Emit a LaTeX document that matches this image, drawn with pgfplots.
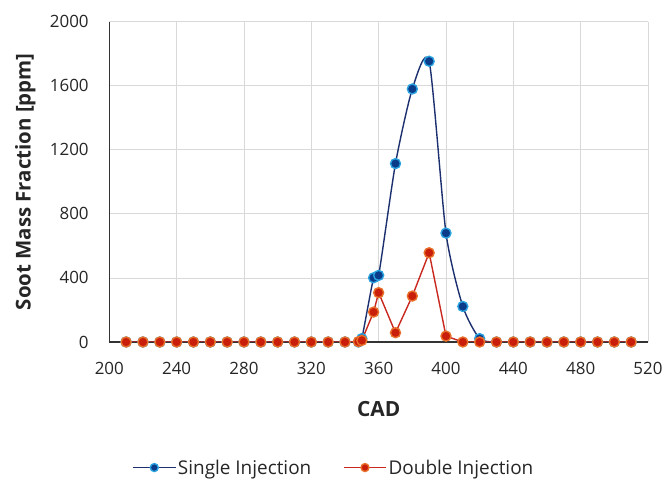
\documentclass[border=0pt]{standalone}
\usepackage{pgfplots}
\pgfplotsset{compat=1.18}
\usepackage{fontspec}
\setmainfont{Open Sans}
\definecolor{blueline}{HTML}{1C2F6E}
\definecolor{bluefill}{HTML}{0A3C8A}
\definecolor{blueedge}{HTML}{2AA3E0}
\definecolor{redline}{HTML}{C8281E}
\definecolor{redfill}{HTML}{C81E0A}
\definecolor{rededge}{HTML}{E8702A}
\pgfplotstableread{
x y
210 0
220 0
230 0
240 0
250 0
260 0
270 0
280 0
290 0
300 0
310 0
320 0
330 0
340 0
348 0
350 21
357 401
360 416
370 1114
380 1580
390 1753
400 680
410 222
420 21
430 0
440 0
450 0
460 0
470 0
480 0
490 0
500 0
510 0
}\single
\pgfplotstableread{
x y
210 0
220 0
230 0
240 0
250 0
260 0
270 0
280 0
290 0
300 0
310 0
320 0
330 0
340 0
348 2
350 10
357 187
360 308
370 58
380 287
390 557
400 37
410 0
420 0
430 0
440 0
450 0
460 0
470 0
480 0
490 0
500 0
510 0
}\double
\begin{document}
\begin{tikzpicture}
\path[use as bounding box] (0bp,0bp) rectangle (665bp,481bp);
\begin{axis}[
  at={(109.3bp,139bp)}, anchor=south west,
  scale only axis, width=538.7bp, height=320.3bp,
  xmin=200, xmax=520, ymin=0, ymax=2000,
  xtick={200,240,...,520}, ytick={0,400,...,2000},
  grid=major, major grid style={draw=black!15, line width=0.8bp},
  axis lines=left, axis line style={-, line width=1.3bp, draw=black!80},
  tick style={draw=none},
  ticklabel style={font=\fontsize{17}{20}\selectfont, text=black!85},
  /pgf/number format/assume math mode=true,
  /pgf/number format/1000 sep={},
  yticklabel style={xshift=-15bp},
  xticklabel style={yshift=-15bp},
  xlabel={CAD}, ylabel={Soot Mass Fraction [ppm]},
  xlabel style={at={(axis description cs:0.5,0)}, anchor=center, yshift=-67bp, font=\fontsize{21}{24}\selectfont\bfseries, text=black!85},
  ylabel style={at={(axis description cs:-0.156,0.5)}, anchor=center, font=\fontsize{20.5}{24}\selectfont\bfseries, text=black!85},
  legend style={at={(axis description cs:0.417,-0.392)}, anchor=center, draw=none, fill=none,
    legend columns=2, font=\fontsize{19}{22}\selectfont, text=black!85,
    /tikz/every even column/.append style={column sep=30bp}},
  legend image code/.code={\draw[mark repeat=2,mark phase=2,mark size=4bp] plot coordinates {(0bp,0bp) (21bp,0bp) (42bp,0bp)};},
]
\addplot[blueline, line width=1.4bp, smooth, tension=0.4, mark=*, mark size=5bp,
  mark options={fill=bluefill, draw=blueedge, line width=1.4bp}] table[x=x,y=y] {\single};
\addlegendentry{Single Injection}
\addplot[redline, line width=1.4bp, mark=*, mark size=5bp,
  mark options={fill=redfill, draw=rededge, line width=1.4bp}] table[x=x,y=y] {\double};
\addlegendentry{Double Injection}
\end{axis}
\end{tikzpicture}
\end{document}
